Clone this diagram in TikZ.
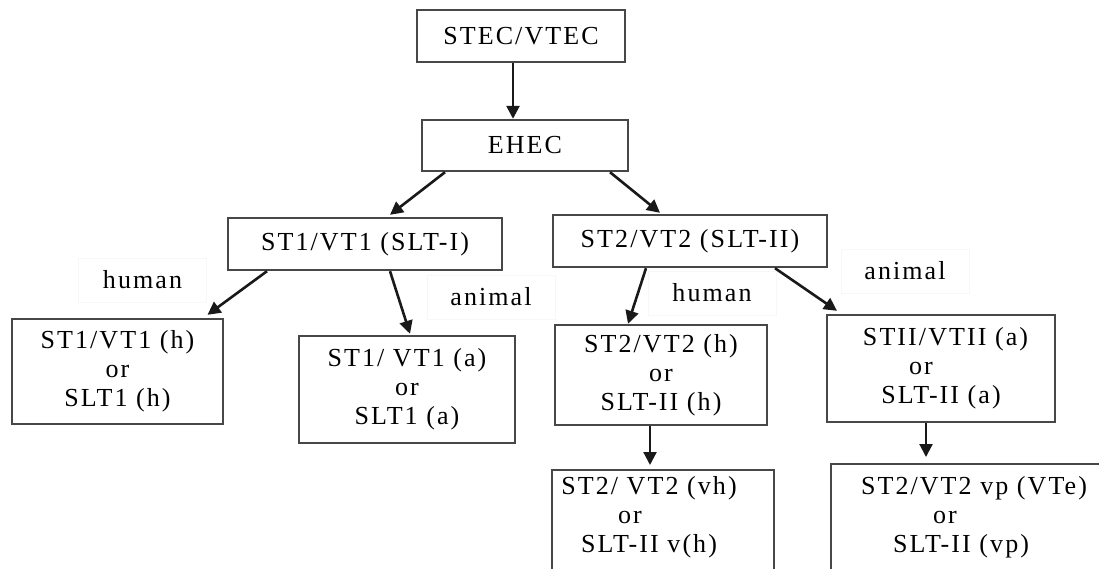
\documentclass[tikz,border=0pt]{standalone}
\usepackage{fontspec}
\setmainfont[LetterSpace=8]{Liberation Serif}
\usetikzlibrary{arrows.meta,calc}
\begin{document}
\begin{tikzpicture}[x=1pt,y=-1pt,
  fnt/.style={font=\fontsize{26}{29}\selectfont, text=black},
  box/.style={fnt, draw=black!72, line width=2.4pt, fill=white, inner sep=0pt, align=center},
  lbl/.style={fnt, draw=black!3, line width=0.8pt, inner sep=0pt, minimum width=128pt, minimum height=44pt},
  txt/.style={fnt, inner sep=0pt, align=center},
  arr/.style={line width=2.6pt, black!90, -{Triangle[length=13pt,width=13pt]}},
  arrs/.style={line width=2.2pt, black!90, -{Triangle[length=13pt,width=13pt]}}]
\clip (0,0) rectangle (1099,569);
\fill[white] (0,0) rectangle (1099,569);

% labels
\node[lbl] (hum1) at (142.5,280) {human};
\node[lbl] (ani1) at (491,297) {animal};
\node[lbl] (hum2) at (712,293) {human};
\node[lbl] (ani2) at (905,271) {animal};

% boxes
\node[box, minimum width=208pt, minimum height=52pt] (stec) at (521,36) {STEC/VTEC};
\node[box, minimum width=206pt, minimum height=51pt] (ehec) at (525,145.5) {EHEC};
\node[box, minimum width=274pt, minimum height=52pt] (st1) at (365,244) {ST1/VT1 (SLT-I)};
\node[box, minimum width=274pt, minimum height=52pt] (st2) at (690,241) {ST2/VT2 (SLT-II)};
\node[box, minimum width=211pt, minimum height=105pt] (st1h) at (117.5,371.5) {ST1/VT1 (h)\\ or\\ SLT1 (h)};
\node[box, minimum width=216pt, minimum height=107pt] (st1a) at (407,389.5) {ST1/ VT1 (a)\\ or\\ SLT1 (a)};
\node[box, minimum width=212pt, minimum height=100pt] (st2h) at (661,375) {ST2/VT2 (h)\\ or\\ SLT-II (h)};
\node[box, minimum width=228pt, minimum height=107pt] (stIIa) at (941,368.5) {\hspace*{9pt}STII/VTII (a)\\ or\hspace*{40pt}\null\\ SLT-II (a)};
\node[box, anchor=north, minimum width=222pt, minimum height=150pt] (vh) at (663,469) {};
\node[box, anchor=north, minimum width=274pt, minimum height=150pt] (vp) at (968,463) {};
\node[txt] (vhtext) at (649,517) {ST2/ VT2 (vh)\\ or\hspace*{38pt}\null\\ SLT-II v(h)};
\node[txt] (vptext) at (974,517) {ST2/VT2 vp (VTe)\\ or\hspace*{58pt}\null\\ SLT-II (vp)\hspace*{26pt}\null};

% connectors
\draw[arr] ([xshift=-8pt]stec.south) -- ([xshift=-12pt]ehec.north);
\draw[arr] ([xshift=-80pt]ehec.south) -- ([xshift=25pt,yshift=2pt]st1.north);
\draw[arr] ([xshift=85pt]ehec.south) -- ([xshift=-30pt,yshift=1pt]st2.north);
\draw[arr] ([xshift=-98pt]st1.south) -- ([xshift=90pt,yshift=3pt]st1h.north);
\draw[arr] ([xshift=25pt]st1.south) -- ([xshift=3pt,yshift=1pt]st1a.north);
\draw[arr] ([xshift=-44pt]st2.south) -- ([xshift=-33pt]st2h.north);
\draw[arr] ([xshift=85pt]st2.south) -- ([xshift=-104pt,yshift=3pt]stIIa.north);
\draw[arrs] ([xshift=-11pt]st2h.south) -- ([xshift=-13pt,yshift=4pt]vh.north);
\draw[arrs] ([xshift=-15pt]stIIa.south) -- ([xshift=-42pt,yshift=6pt]vp.north);
\end{tikzpicture}
\end{document}
